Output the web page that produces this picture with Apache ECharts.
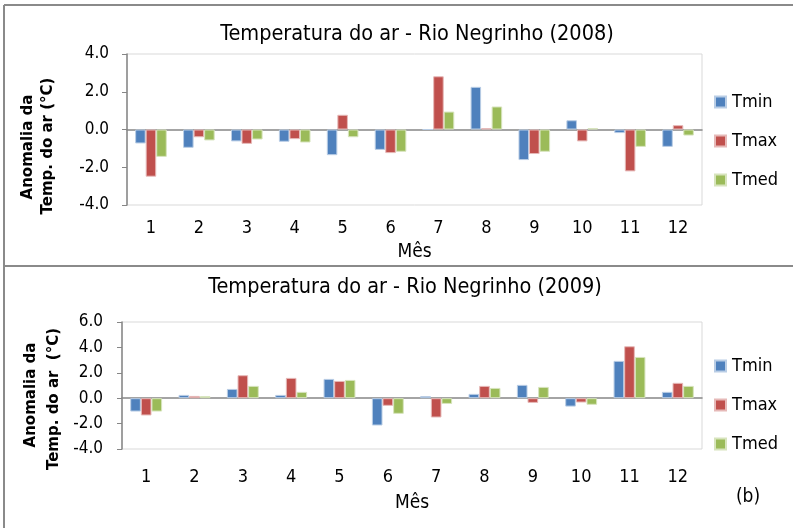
<!DOCTYPE html>
<html><head><meta charset="utf-8">
<script src="https://cdn.jsdelivr.net/npm/echarts@6/dist/echarts.min.js"></script>
<style>html,body{margin:0;padding:0;background:#fff}#c{width:793px;height:528px}</style>
</head><body><div id="c"></div>
<script>
const months = ['1','2','3','4','5','6','7','8','9','10','11','12'];
const yTicks2008 = [-4, -2, 0, 2, 4];
const yTicks2009 = [-4, -2, 0, 2, 4, 6];
const tmin2008 = [-0.74, -0.97, -0.63, -0.65, -1.36, -1.08, 0.0, 2.26, -1.62, 0.49, -0.19, -0.92];
const tmax2008 = [-2.50, -0.41, -0.76, -0.51, 0.78, -1.25, 2.82, 0.07, -1.30, -0.63, -2.22, 0.23];
const tmed2008 = [-1.45, -0.58, -0.53, -0.69, -0.41, -1.18, 0.95, 1.22, -1.18, 0.07, -0.92, -0.32];
const tmin2009 = [-1.05, 0.26, 0.73, 0.26, 1.52, -2.15, 0.17, 0.34, 1.05, -0.66, 2.94, 0.50];
const tmax2009 = [-1.36, 0.18, 1.81, 1.60, 1.36, -0.60, -1.52, 0.97, -0.37, -0.34, 4.09, 1.21];
const tmed2009 = [-1.05, 0.16, 0.97, 0.50, 1.44, -1.23, -0.45, 0.81, 0.89, -0.52, 3.25, 0.97];
const title2008 = 'Temperatura do ar - Rio Negrinho (2008)';
const title2009 = 'Temperatura do ar - Rio Negrinho (2009)';

const C = {Tmin:'#4F81BD', Tmax:'#C0504D', Tmed:'#9BBB59'};
const B = {Tmin:'#b9cde5', Tmax:'#e6b9b8', Tmed:'#d7e4bd'};
const narrow = "'DejaVu Sans Condensed','Liberation Sans Narrow','Liberation Sans',sans-serif";
const axisGray = '#868686';

function xAxes(gi, labelMargin, nameGap){
  return [
    {gridIndex:gi, type:'category', data:months,
     axisLine:{onZero:true, lineStyle:{color:axisGray, width:1.5}},
     axisTick:{length:7, lineStyle:{color:axisGray}}, axisLabel:{show:false}},
    {gridIndex:gi, type:'category', data:months, position:'bottom',
     axisLine:{show:false, onZero:false}, axisTick:{show:false},
     axisLabel:{fontSize:18, color:'#000', fontFamily:narrow, margin:labelMargin},
     name:'Mês', nameLocation:'middle', nameGap:nameGap,
     nameTextStyle:{fontSize:19, color:'#000', fontFamily:narrow}}
  ];
}
function yAxis(gi, ticks, margin){
  return {gridIndex:gi, type:'value', min:ticks[0], max:ticks[ticks.length-1], interval:2,
    axisLine:{show:true, lineStyle:{color:axisGray, width:1.5}},
    axisTick:{show:true, length:5, lineStyle:{color:axisGray}},
    splitLine:{show:false},
    axisLabel:{fontSize:17, color:'#000', fontFamily:narrow, margin:margin, formatter:v=>v.toFixed(1)}};
}
function bar(name, data, xi, yi){
  return {name, type:'bar', xAxisIndex:xi, yAxisIndex:yi, data,
    barGap:'0%', barCategoryGap:'34%',
    itemStyle:{color:C[name], borderColor:B[name], borderWidth:1}};
}
function legend(top){
  return {orient:'vertical', left:709, top:top, icon:'rect', itemWidth:11, itemHeight:11,
    itemGap:21, data:['Tmin','Tmax','Tmed'],
    textStyle:{fontSize:18, color:'#000', fontFamily:narrow, padding:[0,0,0,1]}};
}
function yName(x, y, text){
  return {type:'text', x:x, y:y, rotation:Math.PI/2,
    style:{text:text, align:'center', verticalAlign:'middle', fill:'#000',
      font:"bold 15px 'DejaVu Sans', sans-serif"}};
}

const chart = echarts.init(document.getElementById('c'), null, {renderer:'canvas'});
chart.setOption({
  animation:false,
  backgroundColor:'#fff',
  title:[
    {text:title2008, left:412, top:18, textAlign:'center',
     textStyle:{fontSize:21.5, fontWeight:'normal', fontFamily:narrow, color:'#000'}},
    {text:title2009, left:400, top:271, textAlign:'center',
     textStyle:{fontSize:21.5, fontWeight:'normal', fontFamily:narrow, color:'#000'}}
  ],
  legend:[legend(88), legend(352)],
  grid:[
    {left:127, right:91, top:54, height:151, show:true, borderColor:'#d9d9d9', borderWidth:1},
    {left:122, right:91, top:322, height:127, show:true, borderColor:'#d9d9d9', borderWidth:1}
  ],
  xAxis:[...xAxes(0, 14, 38), ...xAxes(1, 19, 45)],
  yAxis:[yAxis(0, yTicks2008, 18), yAxis(1, yTicks2009, 19)],
  series:[
    bar('Tmin', tmin2008, 0, 0), bar('Tmax', tmax2008, 0, 0), bar('Tmed', tmed2008, 0, 0),
    bar('Tmin', tmin2009, 2, 1), bar('Tmax', tmax2009, 2, 1), bar('Tmed', tmed2009, 2, 1)
  ],
  graphic:[
    {type:'line', shape:{x1:4, y1:5, x2:793, y2:5}, style:{stroke:'#8a8a8a', lineWidth:2}},
    {type:'line', shape:{x1:4, y1:5, x2:4, y2:528}, style:{stroke:'#8a8a8a', lineWidth:2}},
    {type:'line', shape:{x1:4, y1:266, x2:793, y2:266}, style:{stroke:'#8a8a8a', lineWidth:2}},
    yName(28, 147, 'Anomalia da'), yName(48, 146, 'Temp. do ar (°C)'),
    yName(31, 395, 'Anomalia da'), yName(54, 399, 'Temp. do ar  (°C)'),
    {type:'text', x:748, y:497, style:{text:'(b)', align:'center', verticalAlign:'middle',
      fontSize:19, fontFamily:narrow, fill:'#000'}}
  ]
});
</script></body></html>
